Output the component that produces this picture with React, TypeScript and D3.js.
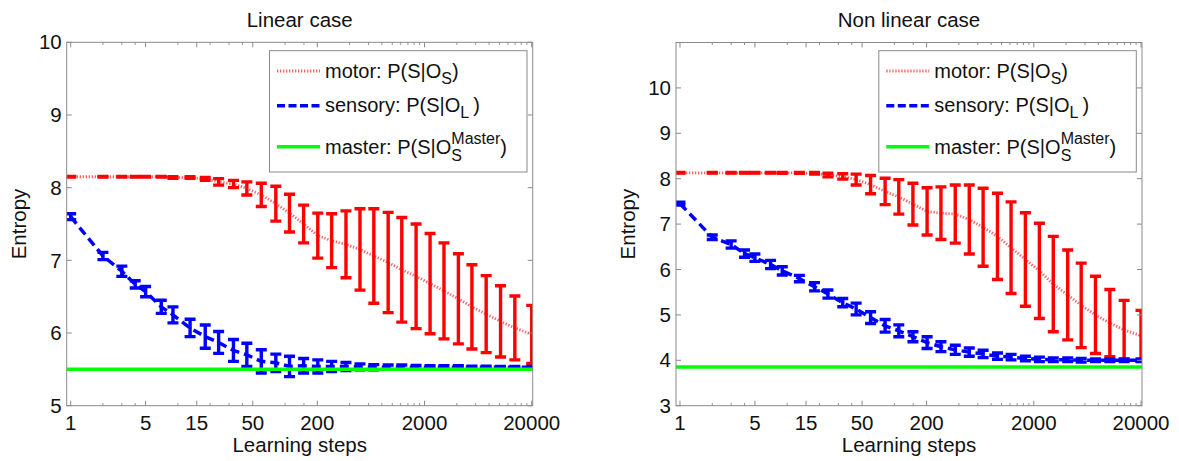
import React from 'react';
import * as d3 from 'd3';

// Learning steps (x positions of the points)
const steps = [1, 2, 3, 4, 5, 7, 9, 13, 18, 24, 33, 44, 60, 82, 110, 149, 202, 272, 370, 500, 673, 916, 1227, 1669, 2254, 3038, 4140, 5534, 7520, 10240, 13920, 20000];

const xTickValues = [1, 5, 15, 50, 200, 2000, 20000];
const xMinorTicks = [2, 3, 4, 10, 20, 30, 40, 100, 150, 400, 600, 800, 1000, 1200, 1400, 1600, 1800, 4000, 6000, 8000, 10000, 12000, 14000, 16000, 18000];

// Linear case
const linMotorMean = [8.15, 8.15, 8.15, 8.15, 8.15, 8.15, 8.14, 8.14, 8.12, 8.08, 8.05, 7.99, 7.90, 7.78, 7.65, 7.50, 7.34, 7.27, 7.22, 7.15, 7.06, 6.97, 6.87, 6.78, 6.68, 6.58, 6.47, 6.36, 6.26, 6.16, 6.07, 5.98];
const linMotorErr = [0.005, 0.005, 0.005, 0.005, 0.005, 0.005, 0.01, 0.01, 0.02, 0.045, 0.05, 0.09, 0.16, 0.24, 0.26, 0.26, 0.31, 0.37, 0.46, 0.56, 0.65, 0.69, 0.72, 0.72, 0.69, 0.66, 0.62, 0.58, 0.53, 0.49, 0.44, 0.40];
const linSensMean = [7.60, 7.06, 6.85, 6.67, 6.57, 6.36, 6.25, 6.07, 5.95, 5.87, 5.76, 5.70, 5.61, 5.59, 5.54, 5.55, 5.54, 5.54, 5.54, 5.535, 5.53, 5.53, 5.53, 5.53, 5.53, 5.53, 5.53, 5.53, 5.53, 5.53, 5.53, 5.53];
const linSensErr = [0.04, 0.05, 0.07, 0.05, 0.07, 0.09, 0.11, 0.12, 0.16, 0.15, 0.15, 0.16, 0.16, 0.12, 0.14, 0.10, 0.09, 0.07, 0.055, 0.04, 0.035, 0.03, 0.03, 0.025, 0.02, 0.02, 0.02, 0.015, 0.015, 0.01, 0.01, 0.01];
const linMaster = 5.5;
const linYTicks = [5, 6, 7, 8, 9, 10];

// Non linear case
const nonMotorMean = [8.13, 8.13, 8.13, 8.13, 8.13, 8.13, 8.13, 8.13, 8.12, 8.08, 8.05, 7.98, 7.87, 7.72, 7.60, 7.44, 7.28, 7.24, 7.22, 7.10, 6.93, 6.73, 6.48, 6.22, 5.97, 5.68, 5.44, 5.21, 5.00, 4.82, 4.67, 4.54];
const nonMotorErr = [0.005, 0.005, 0.005, 0.005, 0.005, 0.005, 0.01, 0.01, 0.02, 0.04, 0.06, 0.12, 0.20, 0.29, 0.38, 0.46, 0.52, 0.58, 0.64, 0.76, 0.86, 0.95, 1.01, 1.03, 1.05, 1.05, 0.99, 0.93, 0.85, 0.74, 0.65, 0.56];
const nonSensMean = [7.45, 6.71, 6.55, 6.35, 6.26, 6.11, 5.97, 5.80, 5.62, 5.46, 5.27, 5.13, 4.94, 4.76, 4.65, 4.52, 4.39, 4.30, 4.23, 4.18, 4.14, 4.09, 4.07, 4.04, 4.02, 4.01, 4.01, 4.00, 4.00, 4.00, 4.00, 4.00];
const nonSensErr = [0.03, 0.05, 0.08, 0.08, 0.08, 0.09, 0.09, 0.07, 0.09, 0.09, 0.09, 0.13, 0.13, 0.14, 0.13, 0.11, 0.13, 0.11, 0.10, 0.09, 0.08, 0.07, 0.06, 0.05, 0.05, 0.04, 0.04, 0.04, 0.03, 0.03, 0.03, 0.03];
const nonMaster = 3.85;
const nonYTicks = [3, 4, 5, 6, 7, 8, 9, 10];

const FONT = '"Liberation Sans", Arial, Helvetica, sans-serif';
const AXIS = '#8a8a8a';
const RED = '#ff0000';
const BLUE = '#0000ff';
const GREEN = '#00ff00';
const DOT = '#ff2a2a';

type PanelProps = {
  id: string;
  x0: number; x1: number; y0: number; y1: number;
  yDomain: [number, number];
  yTicks: number[];
  title: string;
  motorMean: number[]; motorErr: number[];
  sensMean: number[]; sensErr: number[];
  master: number;
};

function ErrorBars({ x, y, mean, err, color }: any) {
  const cap = 5.5;
  return (
    <g stroke={color} strokeWidth={3.4} fill="none">
      {mean.map((m: number, i: number) => {
        const cx = x(steps[i]);
        const yt = y(m + err[i]);
        const yb = y(m - err[i]);
        return (
          <g key={i}>
            <line x1={cx} x2={cx} y1={yt} y2={yb} />
            <line x1={cx - cap} x2={cx + cap} y1={yt} y2={yt} />
            <line x1={cx - cap} x2={cx + cap} y1={yb} y2={yb} />
          </g>
        );
      })}
    </g>
  );
}

function Panel(p: PanelProps) {
  const x = d3.scaleLog().domain([0.918, 20430]).range([p.x0, p.x1]);
  const y = d3.scaleLinear().domain(p.yDomain).range([p.y1, p.y0]);
  const line = d3.line<number>().x((_, i) => x(steps[i])).y((d) => y(d));
  const cx = (p.x0 + p.x1) / 2;
  const cy = (p.y0 + p.y1) / 2;
  const lx = p.x0 + 202.8; // legend box left
  const lw = 257.5;
  const ly = 50.7;
  const lh = 121.3;
  const sx0 = lx + 7.5;
  const sx1 = lx + 50.5;
  const tx = lx + 55.5;
  const r1 = 71, r2 = 105.7, r3 = 146.7;
  const fs = 20;
  const sfs = 16;
  return (
    <g>
      <defs>
        <clipPath id={p.id}>
          <rect x={p.x0} y={p.y0} width={p.x1 - p.x0} height={p.y1 - p.y0} />
        </clipPath>
      </defs>
      <rect x={p.x0} y={p.y0} width={p.x1 - p.x0} height={p.y1 - p.y0} fill="#fff" />
      <g clipPath={`url(#${p.id})`}>
        {/* motor */}
        <path d={line(p.motorMean) || ''} fill="none" stroke={DOT} strokeWidth={2.8} strokeDasharray="1.3,1.7" opacity={0.75} />
        <ErrorBars x={x} y={y} mean={p.motorMean} err={p.motorErr} color={RED} />
        {/* sensory */}
        <path d={line(p.sensMean) || ''} fill="none" stroke={BLUE} strokeWidth={3.5} strokeDasharray="9,5" />
        <ErrorBars x={x} y={y} mean={p.sensMean} err={p.sensErr} color={BLUE} />
        {/* master */}
        <line x1={p.x0} x2={p.x1} y1={y(p.master)} y2={y(p.master)} stroke={GREEN} strokeWidth={3.5} />
      </g>
      {/* box */}
      <rect x={p.x0} y={p.y0} width={p.x1 - p.x0} height={p.y1 - p.y0} fill="none" stroke={AXIS} strokeWidth={1} />
      {/* y ticks */}
      {p.yTicks.map((t) => (
        <g key={'y' + t}>
          <line x1={p.x0} x2={p.x0 + 5} y1={y(t)} y2={y(t)} stroke={AXIS} />
          <line x1={p.x1} x2={p.x1 - 5} y1={y(t)} y2={y(t)} stroke={AXIS} />
          <text x={p.x0 - 5} y={y(t)} dy="0.35em" textAnchor="end" fontSize={20.5} fontFamily={FONT} fill="#111">{t}</text>
        </g>
      ))}
      {/* x ticks */}
      {xTickValues.map((t) => (
        <g key={'x' + t}>
          <line x1={x(t)} x2={x(t)} y1={p.y1} y2={p.y1 - 5} stroke={AXIS} />
          <line x1={x(t)} x2={x(t)} y1={p.y0} y2={p.y0 + 5} stroke={AXIS} />
          <text x={x(t)} y={430} textAnchor="middle" fontSize={20.5} fontFamily={FONT} fill="#111">{t}</text>
        </g>
      ))}
      {xMinorTicks.map((t) => (
        <g key={'m' + t}>
          <line x1={x(t)} x2={x(t)} y1={p.y1} y2={p.y1 - 2.5} stroke={AXIS} />
          <line x1={x(t)} x2={x(t)} y1={p.y0} y2={p.y0 + 2.5} stroke={AXIS} />
        </g>
      ))}
      {/* labels */}
      <text x={cx} y={27} textAnchor="middle" fontSize={20.5} fontFamily={FONT} fill="#111">{p.title}</text>
      <text x={cx} y={452} textAnchor="middle" fontSize={20.5} fontFamily={FONT} fill="#111">Learning steps</text>
      <text transform={`translate(${p.x0 - 41},${cy}) rotate(-90)`} textAnchor="middle" fontSize={20.5} fontFamily={FONT} fill="#111">Entropy</text>
      {/* legend */}
      <rect x={lx} y={ly} width={lw} height={lh} fill="#fff" stroke={AXIS} strokeWidth={1} />
      <line x1={sx0} x2={sx1} y1={r1} y2={r1} stroke={DOT} strokeWidth={2.8} strokeDasharray="1.3,1.7" opacity={0.75} />
      <line x1={sx0} x2={sx1} y1={r2} y2={r2} stroke={BLUE} strokeWidth={3.5} strokeDasharray="8,3.5" />
      <line x1={sx0} x2={sx1} y1={r3} y2={r3} stroke={GREEN} strokeWidth={3.5} />
      <text x={tx} y={r1 + 6.5} fontSize={fs} fontFamily={FONT} fill="#111">
        motor: P(S|O<tspan fontSize={sfs} dy={6}>S</tspan><tspan dy={-6}>)</tspan>
      </text>
      <text x={tx} y={r2 + 6.5} fontSize={fs} fontFamily={FONT} fill="#111">
        sensory: P(S|O<tspan fontSize={sfs} dy={6}>L</tspan><tspan dy={-6} dx={4}>)</tspan>
      </text>
      <text x={tx} y={r3 + 7.5} fontSize={fs} fontFamily={FONT} fill="#111">
        master: P(S|O<tspan fontSize={sfs} dy={-10}>Master</tspan><tspan fontSize={sfs} dx={-48.9} dy={17}>S</tspan><tspan dx={38.2} dy={-7}>)</tspan>
      </text>
    </g>
  );
}

export default function App() {
  return (
    <svg width={1179} height={461} style={{ position: 'absolute', left: 0, top: 0, background: '#fff' }}>
      <rect width={1179} height={461} fill="#fff" />
      <Panel id="clipL" x0={66.7} x1={532.7} y0={42.3} y1={405.7} yDomain={[5, 10]} yTicks={linYTicks}
        title="Linear case" motorMean={linMotorMean} motorErr={linMotorErr}
        sensMean={linSensMean} sensErr={linSensErr} master={linMaster} />
      <Panel id="clipR" x0={676} x1={1142} y0={42.5} y1={405.7} yDomain={[3, 11]} yTicks={nonYTicks}
        title="Non linear case" motorMean={nonMotorMean} motorErr={nonMotorErr}
        sensMean={nonSensMean} sensErr={nonSensErr} master={nonMaster} />
    </svg>
  );
}
